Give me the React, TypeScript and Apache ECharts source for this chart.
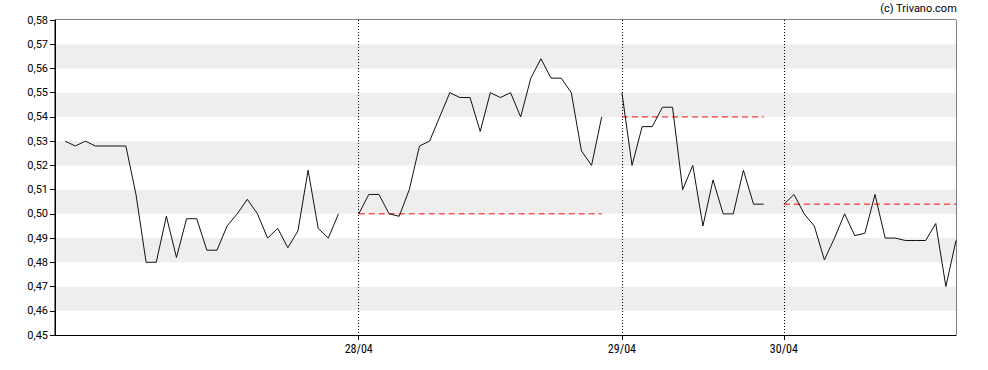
import React, { useEffect, useRef } from "react";
import * as echarts from "echarts";

const days = ["27/04", "28/04", "29/04", "30/04"];

const day1 = [
  0.53, 0.528, 0.53, 0.528, 0.528, 0.528, 0.528, 0.508, 0.48, 0.48,
  0.499, 0.482, 0.498, 0.498, 0.485, 0.485, 0.495, 0.5, 0.506, 0.5,
  0.49, 0.494, 0.486, 0.493, 0.518, 0.494, 0.49, 0.5,
];
const day2 = [
  0.5, 0.508, 0.508, 0.5, 0.499, 0.51, 0.528, 0.53, 0.54, 0.55,
  0.548, 0.548, 0.534, 0.55, 0.548, 0.55, 0.54, 0.556, 0.564, 0.556,
  0.556, 0.55, 0.526, 0.52, 0.54,
];
const day3 = [
  0.55, 0.52, 0.536, 0.536, 0.544, 0.544, 0.51, 0.52, 0.495, 0.514,
  0.5, 0.5, 0.518, 0.504, 0.504,
];
const day4 = [
  0.504, 0.508, 0.5, 0.495, 0.481, 0.49, 0.5, 0.491, 0.492, 0.508,
  0.49, 0.49, 0.489, 0.489, 0.489, 0.496, 0.47, 0.489,
];
const prevClose: (number | null)[] = [null, 0.5, 0.54, 0.504];

const yTicks = [0.45, 0.58, 0.01]; // min, max, step

export default function App() {
  const ref = useRef<HTMLDivElement>(null);

  useEffect(() => {
    if (!ref.current) return;
    const chart = echarts.init(ref.current, undefined, { renderer: "svg" });

    const dayData = [day1, day2, day3, day4];
    const categories: string[] = ["start"];
    const values: (number | null)[] = [null];
    const refLine: (number | null)[] = [null];
    const boundaries: number[] = [];
    const boundaryLabel: Record<number, string> = {};
    dayData.forEach((arr, d) => {
      if (d > 0) {
        categories.push("gap" + d);
        values.push(null);
        refLine.push(null);
        boundaries.push(categories.length);
        boundaryLabel[categories.length] = days[d];
      }
      arr.forEach((v, i) => {
        categories.push(days[d] + " " + i);
        values.push(v);
        refLine.push(prevClose[d]);
      });
    });

    const isB = (idx: number) => boundaries.indexOf(idx) >= 0;

    chart.setOption({
      animation: false,
      backgroundColor: "#ffffff",
      textStyle: { fontFamily: "Roboto" },
      grid: {
        left: 55,
        right: 32,
        top: 20,
        bottom: 35,
        show: true,
        borderColor: "#000",
        borderWidth: 1,
        backgroundColor: "transparent",
      },
      graphic: [
        {
          type: "text",
          right: 31,
          top: 3,
          style: {
            text: "(c) Trivano.com",
            fontSize: 11,
            fontFamily: "Roboto",
            fill: "#000",
          },
        },
      ],
      xAxis: {
        type: "category",
        data: categories,
        boundaryGap: false,
        axisLine: { show: true, lineStyle: { color: "#000", width: 1 } },
        axisTick: {
          show: true,
          interval: (idx: number) => isB(idx),
          length: 5,
          lineStyle: { color: "#000" },
        },
        axisLabel: {
          show: true,
          interval: (idx: number) => isB(idx),
          formatter: (_v: string, idx: number) => boundaryLabel[idx] || "",
          fontSize: 12,
          color: "#000",
          margin: 8,
          fontFamily: "'Liberation Sans Narrow', 'Roboto Condensed', 'DejaVu Sans Condensed', Roboto",
        },
        splitLine: {
          show: true,
          interval: (idx: number) => isB(idx),
          lineStyle: { color: "#000", type: [1, 2], width: 1 },
        },
      },
      yAxis: {
        type: "value",
        min: yTicks[0],
        max: yTicks[1],
        interval: yTicks[2],
        axisLine: { show: true, lineStyle: { color: "#000", width: 1 } },
        axisTick: { show: true, length: 5, lineStyle: { color: "#000" } },
        axisLabel: {
          formatter: (v: number) => v.toFixed(2).replace(".", ","),
          fontSize: 11,
          color: "#000",
          margin: 7,
          fontFamily: "Roboto",
        },
        splitLine: { show: false },
        splitArea: {
          show: true,
          areaStyle: { color: ["#ffffff", "#eeeeee"] },
        },
      },
      series: [
        {
          type: "line",
          data: refLine,
          showSymbol: false,
          connectNulls: false,
          lineStyle: { color: "#ff0000", width: 1, type: [6, 4] },
          silent: true,
          z: 2,
        },
        {
          type: "line",
          data: values,
          showSymbol: false,
          connectNulls: false,
          lineStyle: { color: "#111", width: 1 },
          z: 3,
        },
      ],
    });

    return () => chart.dispose();
  }, []);

  return (
    <div
      ref={ref}
      style={{ position: "fixed", left: 0, top: 0, width: 988, height: 370 }}
    />
  );
}
